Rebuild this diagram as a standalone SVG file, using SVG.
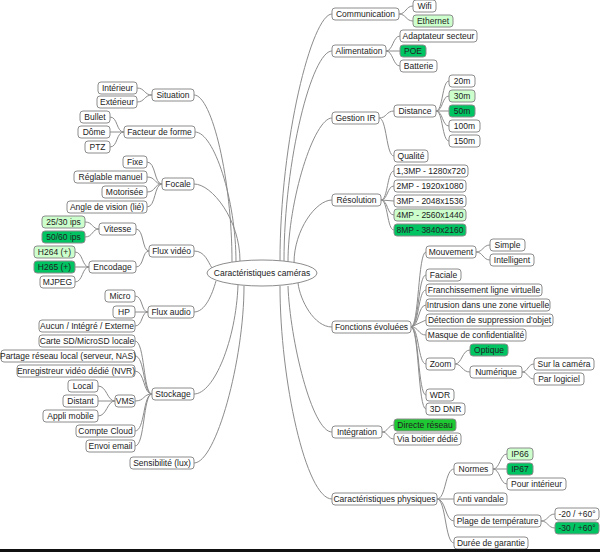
<svg xmlns="http://www.w3.org/2000/svg" width="600" height="552" viewBox="0 0 600 552">
<style>
rect.n{fill:#fff;stroke:#8c8c8c;stroke-width:1}
rect.lg{fill:#ccffcc;stroke:#8c8c8c;stroke-width:1}
rect.g{fill:#00c462;stroke:#8c8c8c;stroke-width:1}
rect.g2{fill:#1ec832;stroke:#8c8c8c;stroke-width:1}
text{font-family:"Liberation Sans",Arial,sans-serif;font-size:8.5px;fill:#222;text-anchor:middle}
#links path{fill:none;stroke:#8c8c8c;stroke-width:1}
</style>
<rect width="600" height="552" fill="#fff"/>
<g id="links">
<!-- center to main -->
<path d="M194,95 C212,95 232,180 232,262"/>
<path d="M195,132 C214,132 236,200 236,262"/>
<path d="M194,184 C212,184 240,220 240,261"/>
<path d="M194,251 C205,251 208,262 212,268"/>
<path d="M194,312 C205,312 212,295 216,281"/>
<path d="M194,394 C214,394 236,340 238,285"/>
<path d="M194,463 C216,463 244,360 244,286"/>
<path d="M332,14 C312,14 280,140 280,261"/>
<path d="M332,51 C312,51 284,160 284,261"/>
<path d="M332,118 C314,118 288,200 288,262"/>
<path d="M332,200 C316,200 294,230 294,263"/>
<path d="M332,327 C314,327 300,300 298,283"/>
<path d="M332,432 C312,432 290,340 288,286"/>
<path d="M332,499 C306,499 280,380 280,286"/>
<!-- left children -->
<path d="M152,95 C144,95 145,88 137,88"/>
<path d="M152,95 C144,95 145,102 137,102"/>
<path d="M124,132 C116,132 118,117 110,117"/>
<path d="M124,132 L110,132"/>
<path d="M124,132 C116,132 118,147 110,147"/>
<path d="M162,184 C154,184 156,162 147,162"/>
<path d="M162,184 C154,184 156,177 147,177"/>
<path d="M162,184 C154,184 156,192 147,192"/>
<path d="M162,184 C154,184 156,207 147,207"/>
<path d="M149,251 C142,251 144,229 136,229"/>
<path d="M149,251 C142,251 144,267 136,267"/>
<path d="M99,229 C92,229 93,222 85,222"/>
<path d="M99,229 C92,229 93,237 85,237"/>
<path d="M89,267 C82,267 83,252 75,252"/>
<path d="M89,267 L75,267"/>
<path d="M89,267 C82,267 83,282 75,282"/>
<path d="M148,312 C141,312 143,296 135,296"/>
<path d="M148,312 L135,312"/>
<path d="M148,312 C141,312 143,326 135,326"/>
<path d="M152,394 C143,394 145,341 135,341"/>
<path d="M152,394 C143,394 145,356 135,356"/>
<path d="M152,394 C143,394 145,371 135,371"/>
<path d="M152,394 C143,394 145,401 135,401"/>
<path d="M152,394 C143,394 145,431 135,431"/>
<path d="M152,394 C143,394 145,446 135,446"/>
<path d="M115,401 C107,401 107,386 98,386"/>
<path d="M115,401 L98,401"/>
<path d="M115,401 C107,401 107,416 98,416"/>
<!-- right children -->
<path d="M399,14 C406,14 406,6 413,6"/>
<path d="M399,14 C406,14 406,21 413,21"/>
<path d="M386,51 C393,51 393,36 400,36"/>
<path d="M386,51 L400,51"/>
<path d="M386,51 C393,51 393,66 400,66"/>
<path d="M379,118 C387,118 386,111 394,111"/>
<path d="M379,118 C387,118 386,156 394,156"/>
<path d="M436,111 C443,111 442,81 449,81"/>
<path d="M436,111 C443,111 442,96 449,96"/>
<path d="M436,111 L449,111"/>
<path d="M436,111 C443,111 442,126 449,126"/>
<path d="M436,111 C443,111 442,141 449,141"/>
<path d="M381,200 C388,200 387,171 394,171"/>
<path d="M381,200 C388,200 387,186 394,186"/>
<path d="M381,200 L394,201"/>
<path d="M381,200 C388,200 387,215 394,215"/>
<path d="M381,200 C388,200 387,230 394,230"/>
<path d="M411,327 C419,327 418,252 426,252"/>
<path d="M411,327 C419,327 418,275 426,275"/>
<path d="M411,327 C419,327 418,290 426,290"/>
<path d="M411,327 C419,327 418,305 426,305"/>
<path d="M411,327 L426,320"/>
<path d="M411,327 C419,327 418,335 426,335"/>
<path d="M411,327 C419,327 418,364 426,364"/>
<path d="M411,327 C419,327 418,395 426,395"/>
<path d="M411,327 C419,327 418,409 426,409"/>
<path d="M476,252 C483,252 483,245 490,245"/>
<path d="M476,252 C483,252 483,260 490,260"/>
<path d="M455,364 C462,364 462,350 470,350"/>
<path d="M455,364 C462,364 462,372 470,372"/>
<path d="M522,372 C528,372 528,364 534,364"/>
<path d="M522,372 C528,372 528,379 534,379"/>
<path d="M382,432 C388,432 388,425 394,425"/>
<path d="M382,432 C388,432 388,439 394,439"/>
<path d="M437,499 C446,499 445,469 454,469"/>
<path d="M437,499 L454,499"/>
<path d="M437,499 C446,499 445,521 454,521"/>
<path d="M437,499 C446,499 445,543 454,543"/>
<path d="M493,469 C500,469 500,454 507,454"/>
<path d="M493,469 L507,469"/>
<path d="M493,469 C500,469 500,484 507,484"/>
<path d="M541,521 C548,521 548,514 555,514"/>
<path d="M541,521 C548,521 548,528 555,528"/>
</g>
<g id="center"><ellipse cx="262" cy="273" rx="55" ry="13" fill="#fff" stroke="#8c8c8c"/><text x="262" y="276">Caractéristiques caméras</text></g>
<g id="situation"><rect class="n" x="152" y="89" width="42" height="12" rx="3"/><text x="173" y="98">Situation</text></g>
<g id="interieur"><rect class="n" x="98" y="82" width="39" height="12" rx="3"/><text x="117.5" y="91">Intérieur</text></g>
<g id="exterieur"><rect class="n" x="97" y="96" width="40" height="12" rx="3"/><text x="117" y="105">Extérieur</text></g>
<g id="facteur"><rect class="n" x="124" y="126" width="71" height="12" rx="3"/><text x="159.5" y="135">Facteur de forme</text></g>
<g id="bullet"><rect class="n" x="80" y="111" width="30" height="12" rx="3"/><text x="95" y="120">Bullet</text></g>
<g id="dome"><rect class="n" x="78" y="126" width="32" height="12" rx="3"/><text x="94" y="135">Dôme</text></g>
<g id="ptz"><rect class="n" x="85" y="141" width="25" height="12" rx="3"/><text x="97.5" y="150">PTZ</text></g>
<g id="focale"><rect class="n" x="162" y="178" width="32" height="12" rx="3"/><text x="178" y="187">Focale</text></g>
<g id="fixe"><rect class="n" x="123" y="156" width="24" height="12" rx="3"/><text x="135" y="165">Fixe</text></g>
<g id="reglable"><rect class="n" x="74" y="171" width="73" height="12" rx="3"/><text x="110.5" y="180">Réglable manuel</text></g>
<g id="motorisee"><rect class="n" x="102" y="186" width="45" height="12" rx="3"/><text x="124.5" y="195">Motorisée</text></g>
<g id="angle"><rect class="n" x="67" y="201" width="80" height="12" rx="3"/><text x="107" y="210">Angle de vision (lié)</text></g>
<g id="fluxvideo"><rect class="n" x="149" y="245" width="45" height="12" rx="3"/><text x="171.5" y="254">Flux vidéo</text></g>
<g id="vitesse"><rect class="n" x="99" y="223" width="37" height="12" rx="3"/><text x="117.5" y="232">Vitesse</text></g>
<g id="ips25"><rect class="lg" x="42" y="216" width="43" height="12" rx="3"/><text x="63.5" y="225">25/30 ips</text></g>
<g id="ips50"><rect class="g" x="42" y="231" width="43" height="12" rx="3"/><text x="63.5" y="240">50/60 ips</text></g>
<g id="encodage"><rect class="n" x="89" y="261" width="47" height="12" rx="3"/><text x="112.5" y="270">Encodage</text></g>
<g id="h264"><rect class="lg" x="34" y="246" width="41" height="12" rx="3"/><text x="54.5" y="255">H264 (+)</text></g>
<g id="h265"><rect class="g" x="34" y="261" width="41" height="12" rx="3"/><text x="54.5" y="270">H265 (+)</text></g>
<g id="mjpeg"><rect class="n" x="40" y="276" width="35" height="12" rx="3"/><text x="57.5" y="285">MJPEG</text></g>
<g id="fluxaudio"><rect class="n" x="148" y="306" width="46" height="12" rx="3"/><text x="171" y="315">Flux audio</text></g>
<g id="micro"><rect class="n" x="105" y="290" width="30" height="12" rx="3"/><text x="120" y="299">Micro</text></g>
<g id="hp"><rect class="n" x="113" y="306" width="22" height="12" rx="3"/><text x="124" y="315">HP</text></g>
<g id="aucun"><rect class="n" x="39" y="320" width="96" height="12" rx="3"/><text x="87" y="329">Aucun / Intégré / Externe</text></g>
<g id="stockage"><rect class="n" x="152" y="388" width="42" height="12" rx="3"/><text x="173" y="397">Stockage</text></g>
<g id="carte"><rect class="n" x="39" y="335" width="96" height="12" rx="3"/><text x="87" y="344">Carte SD/MicroSD locale</text></g>
<g id="partage"><rect class="n" x="1" y="350" width="134" height="12" rx="3"/><text x="68" y="359">Partage réseau local (serveur, NAS)</text></g>
<g id="nvr"><rect class="n" x="17" y="365" width="118" height="12" rx="3"/><text x="76" y="374">Enregistreur vidéo dédié (NVR)</text></g>
<g id="vms"><rect class="n" x="115" y="395" width="20" height="12" rx="3"/><text x="125" y="404">VMS</text></g>
<g id="local"><rect class="n" x="68" y="380" width="30" height="12" rx="3"/><text x="83" y="389">Local</text></g>
<g id="distant"><rect class="n" x="63" y="395" width="35" height="12" rx="3"/><text x="80.5" y="404">Distant</text></g>
<g id="appli"><rect class="n" x="43" y="410" width="55" height="12" rx="3"/><text x="70.5" y="419">Appli mobile</text></g>
<g id="cloud"><rect class="n" x="76" y="425" width="59" height="12" rx="3"/><text x="105.5" y="434">Compte Cloud</text></g>
<g id="email"><rect class="n" x="86" y="440" width="49" height="12" rx="3"/><text x="110.5" y="449">Envoi email</text></g>
<g id="sensib"><rect class="n" x="130" y="457" width="64" height="12" rx="3"/><text x="162" y="466">Sensibilité (lux)</text></g>
<g id="communication"><rect class="n" x="332" y="8" width="67" height="12" rx="3"/><text x="365.5" y="17">Communication</text></g>
<g id="wifi"><rect class="n" x="413" y="0" width="23" height="12" rx="3"/><text x="424.5" y="9">Wifi</text></g>
<g id="ethernet"><rect class="lg" x="413" y="15" width="40" height="12" rx="3"/><text x="433" y="24">Ethernet</text></g>
<g id="alimentation"><rect class="n" x="332" y="45" width="54" height="12" rx="3"/><text x="359" y="54">Alimentation</text></g>
<g id="adaptateur"><rect class="n" x="400" y="30" width="77" height="12" rx="3"/><text x="438.5" y="39">Adaptateur secteur</text></g>
<g id="poe"><rect class="g" x="400" y="45" width="26" height="12" rx="3"/><text x="413" y="54">POE</text></g>
<g id="batterie"><rect class="n" x="400" y="60" width="37" height="12" rx="3"/><text x="418.5" y="69">Batterie</text></g>
<g id="gestionir"><rect class="n" x="332" y="112" width="47" height="12" rx="3"/><text x="355.5" y="121">Gestion IR</text></g>
<g id="distance"><rect class="n" x="394" y="105" width="42" height="12" rx="3"/><text x="415" y="114">Distance</text></g>
<g id="m20"><rect class="n" x="449" y="75" width="26" height="12" rx="3"/><text x="462" y="84">20m</text></g>
<g id="m30"><rect class="lg" x="449" y="90" width="26" height="12" rx="3"/><text x="462" y="99">30m</text></g>
<g id="m50"><rect class="g" x="449" y="105" width="26" height="12" rx="3"/><text x="462" y="114">50m</text></g>
<g id="m100"><rect class="n" x="449" y="120" width="31" height="12" rx="3"/><text x="464.5" y="129">100m</text></g>
<g id="m150"><rect class="n" x="449" y="135" width="31" height="12" rx="3"/><text x="464.5" y="144">150m</text></g>
<g id="qualite"><rect class="n" x="394" y="150" width="34" height="12" rx="3"/><text x="411" y="159">Qualité</text></g>
<g id="resolution"><rect class="n" x="332" y="194" width="49" height="12" rx="3"/><text x="356.5" y="203">Résolution</text></g>
<g id="r13"><rect class="n" x="394" y="165" width="74" height="12" rx="3"/><text x="431" y="174">1,3MP - 1280x720</text></g>
<g id="r2"><rect class="n" x="394" y="180" width="72" height="12" rx="3"/><text x="430" y="189">2MP - 1920x1080</text></g>
<g id="r3"><rect class="n" x="394" y="195" width="72" height="12" rx="3"/><text x="430" y="204">3MP - 2048x1536</text></g>
<g id="r4"><rect class="lg" x="394" y="209" width="72" height="12" rx="3"/><text x="430" y="218">4MP - 2560x1440</text></g>
<g id="r8"><rect class="g" x="394" y="224" width="72" height="12" rx="3"/><text x="430" y="233">8MP - 3840x2160</text></g>
<g id="fonctions"><rect class="n" x="332" y="321" width="79" height="12" rx="3"/><text x="371.5" y="330">Fonctions évoluées</text></g>
<g id="mouvement"><rect class="n" x="426" y="246" width="50" height="12" rx="3"/><text x="451" y="255">Mouvement</text></g>
<g id="simple"><rect class="n" x="490" y="239" width="35" height="12" rx="3"/><text x="507.5" y="248">Simple</text></g>
<g id="intelligent"><rect class="n" x="490" y="254" width="44" height="12" rx="3"/><text x="512" y="263">Intelligent</text></g>
<g id="faciale"><rect class="n" x="426" y="269" width="35" height="12" rx="3"/><text x="443.5" y="278">Faciale</text></g>
<g id="franch"><rect class="n" x="426" y="284" width="116" height="12" rx="3"/><text x="484" y="293">Franchissement ligne virtuelle</text></g>
<g id="intrusion"><rect class="n" x="426" y="299" width="124" height="12" rx="3"/><text x="488" y="308">Intrusion dans une zone virtuelle</text></g>
<g id="detection"><rect class="n" x="426" y="314" width="127" height="12" rx="3"/><text x="489.5" y="323">Détection de suppression d'objet</text></g>
<g id="masque"><rect class="n" x="426" y="329" width="100" height="12" rx="3"/><text x="476" y="338">Masque de confidentialité</text></g>
<g id="zoom"><rect class="n" x="426" y="358" width="29" height="12" rx="3"/><text x="440.5" y="367">Zoom</text></g>
<g id="optique"><rect class="g" x="470" y="344" width="38" height="12" rx="3"/><text x="489" y="353">Optique</text></g>
<g id="numerique"><rect class="n" x="470" y="366" width="52" height="12" rx="3"/><text x="496" y="375">Numérique</text></g>
<g id="surcam"><rect class="n" x="534" y="358" width="60" height="12" rx="3"/><text x="564" y="367">Sur la caméra</text></g>
<g id="parlog"><rect class="n" x="534" y="373" width="50" height="12" rx="3"/><text x="559" y="382">Par logiciel</text></g>
<g id="wdr"><rect class="n" x="426" y="389" width="28" height="12" rx="3"/><text x="440" y="398">WDR</text></g>
<g id="dnr"><rect class="n" x="426" y="403" width="39" height="12" rx="3"/><text x="445.5" y="412">3D DNR</text></g>
<g id="integration"><rect class="n" x="332" y="426" width="50" height="12" rx="3"/><text x="357" y="435">Intégration</text></g>
<g id="directe"><rect class="g2" x="394" y="419" width="62" height="12" rx="3"/><text x="425" y="428">Directe réseau</text></g>
<g id="boitier"><rect class="n" x="394" y="433" width="67" height="12" rx="3"/><text x="427.5" y="442">Via boitier dédié</text></g>
<g id="physiques"><rect class="n" x="332" y="493" width="105" height="12" rx="3"/><text x="384.5" y="502">Caractéristiques physiques</text></g>
<g id="normes"><rect class="n" x="454" y="463" width="39" height="12" rx="3"/><text x="473.5" y="472">Normes</text></g>
<g id="ip66"><rect class="lg" x="507" y="448" width="26" height="12" rx="3"/><text x="520" y="457">IP66</text></g>
<g id="ip67"><rect class="g" x="507" y="463" width="26" height="12" rx="3"/><text x="520" y="472">IP67</text></g>
<g id="pourint"><rect class="n" x="507" y="478" width="59" height="12" rx="3"/><text x="536.5" y="487">Pour intérieur</text></g>
<g id="vandale"><rect class="n" x="454" y="493" width="53" height="12" rx="3"/><text x="480.5" y="502">Anti vandale</text></g>
<g id="plage"><rect class="n" x="454" y="515" width="87" height="12" rx="3"/><text x="497.5" y="524">Plage de température</text></g>
<g id="t20"><rect class="n" x="555" y="508" width="44" height="12" rx="3"/><text x="577" y="517">-20 / +60°</text></g>
<g id="t30"><rect class="g" x="555" y="522" width="44" height="12" rx="3"/><text x="577" y="531">-30 / +60°</text></g>
<g id="garantie"><rect class="n" x="454" y="537" width="74" height="12" rx="3"/><text x="491" y="546">Durée de garantie</text></g>
<rect x="0" y="549" width="600" height="3" fill="#111"/>
</svg>
